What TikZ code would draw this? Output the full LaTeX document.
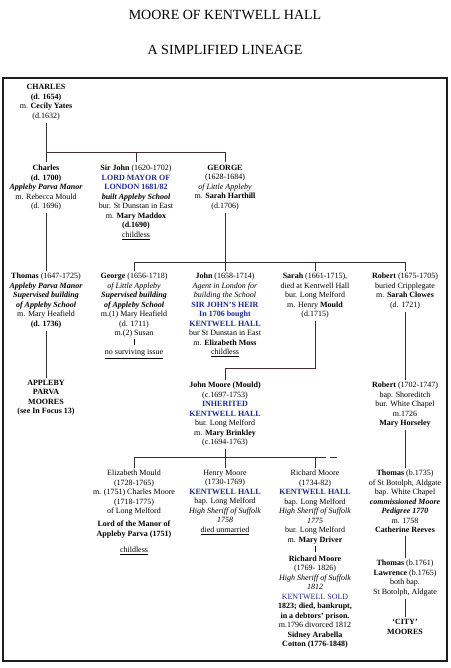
\documentclass[tikz,border=0pt]{standalone}
\usepackage{fontspec}
\setmainfont{Liberation Serif}
\usepackage{tikz}
\usetikzlibrary{positioning,calc}
\definecolor{kLine}{HTML}{3E2A38}
\definecolor{kBlue}{HTML}{1F2A8C}
\definecolor{kFrame}{HTML}{1E1E1E}
\tikzset{
  person/.style={align=center,inner sep=2.5pt,anchor=north,
                 font=\fontsize{8}{9.5}\selectfont},
  heading/.style={font=\fontsize{14}{16}\selectfont},
  kin/.style={draw=kLine,line width=0.9pt},
  frame/.style={draw=kFrame,line width=1.6pt},
}
\newcommand{\hall}[1]{\textcolor{kBlue}{\textbf{#1}}}
\newcommand{\boldit}[1]{\textbf{\textit{#1}}}
\newcommand{\issuebar}{\rule{0.8pt}{6pt}}

\begin{document}
\begin{tikzpicture}[x=1pt,y=-1pt]
  \useasboundingbox (0,0) rectangle (450,668);
  \node[heading] (title) at (225,15) {MOORE OF KENTWELL HALL};
  \node[heading] (subtitle) at (225,50) {A SIMPLIFIED LINEAGE};
  \draw[frame] (3,78) rectangle (447,661);

  % first generations
  \node[person] (charles) at (46,82)
    {\textbf{CHARLES}\\\textbf{(d. 1654)}\\m. \textbf{Cecily Yates}\\(d.1632)};
  \node[person] (charlesjr) at (46,162.5)
    {\textbf{Charles}\\\textbf{(d. 1700)}\\\boldit{Appleby Parva Manor}\\m. Rebecca Mould\\(d. 1696)};
  \node[person] (sirjohn) at (136,162.5)
    {\textbf{Sir John} (1620-1702)\\\hall{LORD MAYOR OF}\\\hall{LONDON 1681/82}\\
     \boldit{built Appleby School}\\bur. St Dunstan in East\\m. \textbf{Mary Maddox}\\
     \textbf{(d.1690)}\\\underline{childless}};
  \node[person] (george) at (225,162.5)
    {\textbf{GEORGE}\\(1628-1684)\\\textit{of Little Appleby}\\m. \textbf{Sarah Harthill}\\(d.1706)};

  \node[person] (thomas) at (46,270.5)
    {\textbf{Thomas} (1647-1725)\\\boldit{Appleby Parva Manor}\\\boldit{Supervised building}\\
     \boldit{of Appleby School}\\m. Mary Heafield\\\textbf{(d. 1736)}};
  \node[person] (georgejr) at (134,270.5)
    {\textbf{George} (1656-1718)\\\textit{of Little Appleby}\\\boldit{Supervised building}\\
     \boldit{of Appleby School}\\m.(1) Mary Heafield\\(d. 1711)\\m.(2) Susan\\\issuebar\\
     \underline{no surviving issue}};
  \node[person] (john) at (225,270.5)
    {\textbf{John} (1658-1714)\\\textit{Agent in London for}\\\textit{building the School}\\
     \hall{SIR JOHN'S HEIR}\\\hall{In 1706 bought}\\\hall{KENTWELL HALL}\\
     bur St Dunstan in East\\m. \textbf{Elizabeth Moss}\\\underline{childless}};
  \node[person] (sarah) at (315,270.5)
    {\textbf{Sarah} (1661-1715),\\died at Kentwell Hall\\bur. Long Melford\\
     m. Henry \textbf{Mould}\\(d.1715)};
  \node[person] (robert) at (405,270.5)
    {\textbf{Robert} (1675-1705)\\buried Cripplegate\\m. \textbf{Sarah Clowes}\\(d. 1721)};

  \node[person] (appleby) at (46,377.5)
    {\textbf{APPLEBY}\\\textbf{PARVA}\\\textbf{MOORES}\\\textbf{(see In Focus 13)}};
  \node[person] (johnmoore) at (225,379.5)
    {\textbf{John Moore (Mould)}\\(c.1697-1753)\\\hall{INHERITED}\\\hall{KENTWELL HALL}\\
     bur. Long Melford\\m. \textbf{Mary Brinkley}\\(c.1694-1763)};
  \node[person] (robertjr) at (405,379.5)
    {\textbf{Robert} (1702-1747)\\bap. Shoreditch\\bur. White Chapel\\m.1726\\
     \textbf{Mary Horseley}};

  % Long Melford line
  \node[person] (elizabeth) at (134,467.5)
    {Elizabeth Mould\\(1728-1765)\\m. (1751) Charles Moore\\(1718-1775)\\of Long Melford\\[3.5pt]
     \textbf{Lord of the Manor of}\\\textbf{Appleby Parva (1751)}\\[7pt]\underline{childless}};
  \node[person] (henry) at (225,467.5)
    {Henry Moore\\(1730-1769)\\\hall{KENTWELL HALL}\\bap. Long Melford\\
     \textit{High Sheriff of Suffolk}\\\textit{1758}\\\underline{died unmarried}};
  \node[person] (richard) at (315,467.5)
    {Richard Moore\\(1734-82)\\\hall{KENTWELL HALL}\\bap. Long Melford\\
     \textit{High Sheriff of Suffolk}\\\textit{1775}\\bur. Long Melford\\m. \textbf{Mary Driver}\\
     \issuebar\\\textbf{Richard Moore}\\(1769- 1826)\\\textit{High Sheriff of Suffolk}\\
     \textit{1812}\\\textcolor{kBlue}{KENTWELL SOLD}\\\textbf{1823; died, bankrupt,}\\
     \textbf{in a debtors' prison.}\\m.1796 divorced 1812\\\textbf{Sidney Arabella}\\
     \textbf{Cotton (1776-1848)}};
  \node[person] (thomas35) at (405,467.5)
    {\textbf{Thomas} (b.1735)\\of St Botolph, Aldgate\\bap. White Chapel\\
     \boldit{commissioned Moore}\\\boldit{Pedigree 1770}\\m. 1758\\\textbf{Catherine Reeves}};
  \node[person] (thomas61) at (405,557.5)
    {\textbf{Thomas} (b.1761)\\\textbf{Lawrence} (b.1765)\\both bap.\\St Botolph, Aldgate};
  \node[person] (city) at (405,616.5) {\textbf{`CITY'}\\\textbf{MOORES}};

  \coordinate (b1) at (0,152);
  \coordinate (b2) at (0,262);
  \coordinate (b3) at (0,368);
  \coordinate (b4) at (0,457);
  \coordinate (b4end) at (340,457);

  \draw[kin] (charles) -- (charlesjr);
  \draw[kin] (charles |- b1) -- (george |- b1) -- (george);
  \draw[kin] (sirjohn |- b1) -- (sirjohn);
  \draw[kin] (george) -- (john);
  \draw[kin] (georgejr) -- (georgejr |- b2) -- (robert |- b2) -- (robert);
  \draw[kin] (sarah |- b2) -- (sarah);
  \draw[kin] (charlesjr) -- (thomas);
  \draw[kin] (thomas) -- (appleby);
  \draw[kin] (sarah) -- (sarah |- b3) -| (johnmoore);
  \draw[kin] (robert) -- (robertjr);
  \draw[kin] (johnmoore) -- (henry);
  \draw[kin] (elizabeth) -- (elizabeth |- b4) -- (richard |- b4) -- (richard);
  \draw[kin,dash pattern=on 11pt off 4pt on 7pt off 4pt] (richard |- b4) -- (b4end);
  \draw[kin] (robertjr) -- (thomas35);
  \draw[kin] (thomas35) -- (thomas61);
  \draw[kin] (thomas61) -- (city);
\end{tikzpicture}
\end{document}
